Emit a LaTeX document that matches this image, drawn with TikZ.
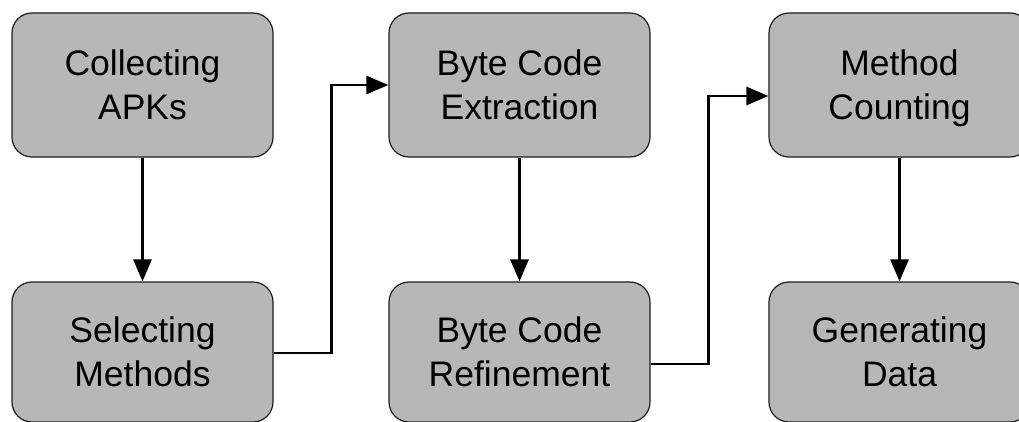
\documentclass[tikz,border=0pt]{standalone}
\usepackage{fontspec}
\setmainfont{Liberation Sans}
\usetikzlibrary{arrows.meta}
\definecolor{boxgray}{RGB}{183,183,183}
\definecolor{edgecol}{RGB}{30,30,30}
\newcommand{\nodepth}[1]{\raisebox{0pt}[\height][0pt]{#1}}
\begin{document}
\begin{tikzpicture}[x=1pt,y=-1pt,
  stepbox/.style={draw=edgecol, line width=1.2pt, fill=boxgray, rounded corners=20pt,
    minimum width=261pt, align=center, font=\fontsize{35.5}{44}\selectfont, inner sep=0pt},
  toprow/.style={stepbox, minimum height=144pt},
  botrow/.style={stepbox, minimum height=140pt},
  flow/.style={line width=2.9pt, draw=black, -{Triangle[length=22pt,width=18pt]}}]
\useasboundingbox (0,0) rectangle (1019,422);
\clip (0,0) rectangle (1019,422);
\fill[white] (0,0) rectangle (1019,422);
\node[toprow] (col) at (142.5,85) {Collecting\\APKs};
\node[botrow] (sel) at (142.5,352) {Selecting\\Methods};
\node[toprow] (ext) at (519.5,85) {Byte Code\\Extraction};
\node[botrow] (ref) at (519.5,352) {Byte Code\\Refinement};
\node[toprow] (cnt) at (899.5,85) {Method\\\nodepth{Counting}};
\node[botrow] (gen) at (899.5,352) {Generating\\Data};
\draw[flow] (col) -- (sel);
\draw[flow] (ext) -- (ref);
\draw[flow] (cnt) -- (gen);
\draw[flow] ([yshift=-1pt]sel.east) -- ++(58,0) coordinate (k1) |- (ext.west);
\draw[flow] ([yshift=-12pt]ref.east) -- ++(58,0) coordinate (k2) |- ([yshift=-11pt]cnt.west);
\end{tikzpicture}
\end{document}
